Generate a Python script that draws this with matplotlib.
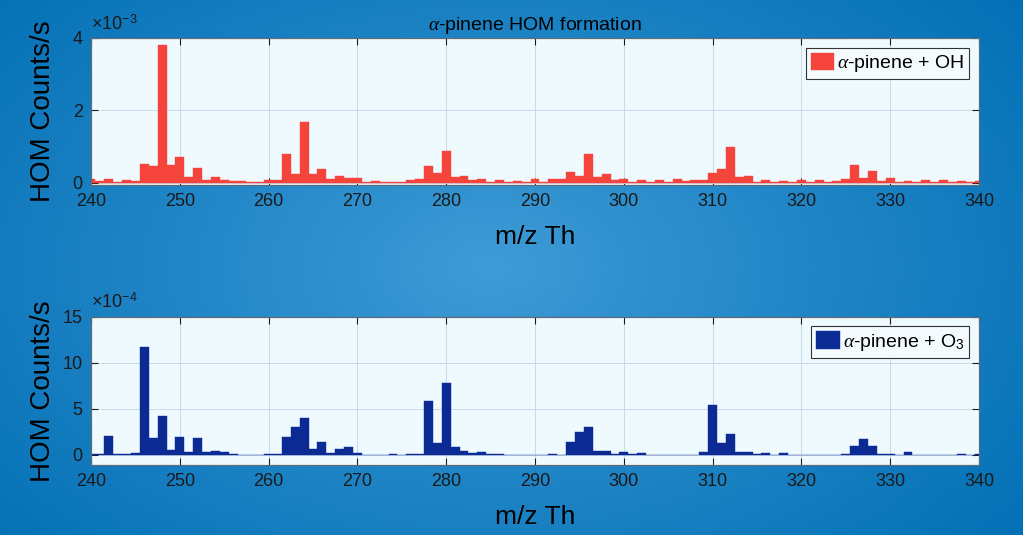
import numpy as np
import matplotlib
matplotlib.use("Agg")
import matplotlib.pyplot as plt
from matplotlib.ticker import FuncFormatter

plt.rcParams['font.family'] = ['Liberation Sans', 'DejaVu Sans']
plt.rcParams['mathtext.fontset'] = 'custom'
plt.rcParams['mathtext.rm'] = 'Liberation Sans'
plt.rcParams['mathtext.it'] = 'Liberation Serif:italic'

# m/z channels (Th)
mz = list(range(240, 341))

# alpha-pinene + OH, counts/s (read in units of 1e-3)
oh_counts = [
    0.09, 0.03, 0.09, 0.01, 0.06, 0.04, 0.52, 0.45, 3.80, 0.49,
    0.70, 0.15, 0.40, 0.07, 0.16, 0.07, 0.05, 0.03, 0.02, 0.02,
    0.06, 0.06, 0.80, 0.24, 1.68, 0.25, 0.38, 0.09, 0.17, 0.13,
    0.14, 0.02, 0.04, 0.02, 0.02, 0.01, 0.06, 0.10, 0.47, 0.26,
    0.86, 0.15, 0.18, 0.06, 0.10, 0.02, 0.06, 0.02, 0.04, 0.02,
    0.09, 0.02, 0.09, 0.09, 0.29, 0.17, 0.79, 0.15, 0.24, 0.06,
    0.09, 0.02, 0.06, 0.02, 0.06, 0.02, 0.10, 0.04, 0.06, 0.07,
    0.27, 0.38, 0.98, 0.15, 0.18, 0.02, 0.06, 0.02, 0.05, 0.02,
    0.06, 0.02, 0.06, 0.02, 0.05, 0.09, 0.48, 0.13, 0.31, 0.03,
    0.14, 0.02, 0.05, 0.02, 0.08, 0.02, 0.06, 0.02, 0.05, 0.02,
    0.04,
]

# alpha-pinene + O3, counts/s (read in units of 1e-4)
o3_counts = [
    0.10, 0.10, 2.00, 0.05, 0.05, 0.20, 11.7, 1.85, 4.20, 0.50,
    1.90, 0.30, 1.85, 0.25, 0.45, 0.35, 0.05, 0.02, 0.02, 0.02,
    0.05, 0.10, 1.90, 3.00, 4.00, 0.65, 1.40, 0.20, 0.60, 0.85,
    0.20, 0.02, 0.02, 0.02, 0.05, 0.02, 0.05, 0.10, 5.80, 1.25,
    7.80, 0.90, 0.45, 0.20, 0.30, 0.10, 0.05, 0.02, 0.02, 0.02,
    0.02, 0.02, 0.10, 0.02, 1.40, 2.45, 3.00, 0.45, 0.45, 0.05,
    0.25, 0.05, 0.15, 0.02, 0.02, 0.02, 0.02, 0.02, 0.02, 0.25,
    5.45, 1.30, 2.30, 0.25, 0.30, 0.05, 0.15, 0.02, 0.20, 0.02,
    0.02, 0.02, 0.02, 0.02, 0.02, 0.07, 1.00, 1.75, 1.00, 0.07,
    0.05, 0.02, 0.35, 0.02, 0.02, 0.02, 0.03, 0.02, 0.05, 0.02,
    0.05,
]

xticks = list(range(240, 341, 10))

fig = plt.figure(figsize=(10.23, 5.35), dpi=100)

# blue slide-style background
bg = fig.add_axes([0, 0, 1, 1], zorder=-10)
gx, gy = np.meshgrid(np.linspace(0, 1, 300), np.linspace(0, 1, 160))
d = np.sqrt(((gx - 0.48) / 0.7) ** 2 + ((gy - 0.5) / 0.85) ** 2)
d = np.clip(d, 0, 1) ** 0.9
light = np.array([64, 156, 216]) / 255
dark = np.array([0, 110, 180]) / 255
img = light[None, None, :] * (1 - d[..., None]) + dark[None, None, :] * d[..., None]
bg.imshow(img, aspect='auto', extent=[0, 1, 0, 1], origin='lower')
bg.axis('off')


def style_axes(ax, yticks, ylim, exp):
    ax.set_facecolor('#EFFAFF')
    ax.set_xlim(240, 340)
    ax.set_ylim(*ylim)
    ax.set_xticks(xticks)
    ax.set_yticks(yticks)
    ax.grid(True, color='#C9D9EC', linewidth=0.7)
    ax.set_axisbelow(True)
    ax.tick_params(direction='in', length=5, top=True, right=True,
                   labelsize=13, colors='#1A1A1A', pad=6)
    for sp in ax.spines.values():
        sp.set_color('#5E6B78')
        sp.set_linewidth(0.9)
    scale = 10.0 ** exp
    ax.yaxis.set_major_formatter(FuncFormatter(lambda v, p: f'{v / scale:.0f}'))
    ax.text(0.0, 1.03, r'$\times$10$^{%d}$' % exp, transform=ax.transAxes,
            ha='left', va='bottom', fontsize=13, color='#1A1A1A')
    ax.set_xlabel('m/z Th', fontsize=19)
    ax.set_ylabel('HOM Counts/s', fontsize=20)
    ax.xaxis.set_label_coords(0.5, -0.27)
    ax.yaxis.set_label_coords(-0.04, 0.5)


ax1 = fig.add_axes([0.089, 0.654, 0.868, 0.275])
ax1.bar(mz, np.array(oh_counts) * 1e-3, width=1.0, color='#F5443C',
        edgecolor='#F5443C', linewidth=0.3, label=r'$\alpha$-pinene + OH')
style_axes(ax1, [0, 2e-3, 4e-3], (-0.07e-3, 4e-3), -3)
ax1.set_title(r'$\alpha$-pinene HOM formation', fontsize=14, pad=6)

ax2 = fig.add_axes([0.089, 0.131, 0.868, 0.277])
ax2.bar(mz, np.array(o3_counts) * 1e-4, width=1.0, color='#0B2A94',
        edgecolor='#0B2A94', linewidth=0.3, label=r'$\alpha$-pinene + O$_3$')
style_axes(ax2, [0, 5e-4, 10e-4, 15e-4], (-1.1e-4, 15e-4), -4)

for ax in (ax1, ax2):
    leg = ax.legend(loc='upper right', fontsize=14, fancybox=False,
                    framealpha=1, facecolor='#F4FBFF', edgecolor='#333333',
                    borderaxespad=0.5, borderpad=0.25, handlelength=1.2,
                    handleheight=1.0, handletextpad=0.15)
    leg.get_frame().set_linewidth(0.8)

fig.savefig('out.png', dpi=100)
